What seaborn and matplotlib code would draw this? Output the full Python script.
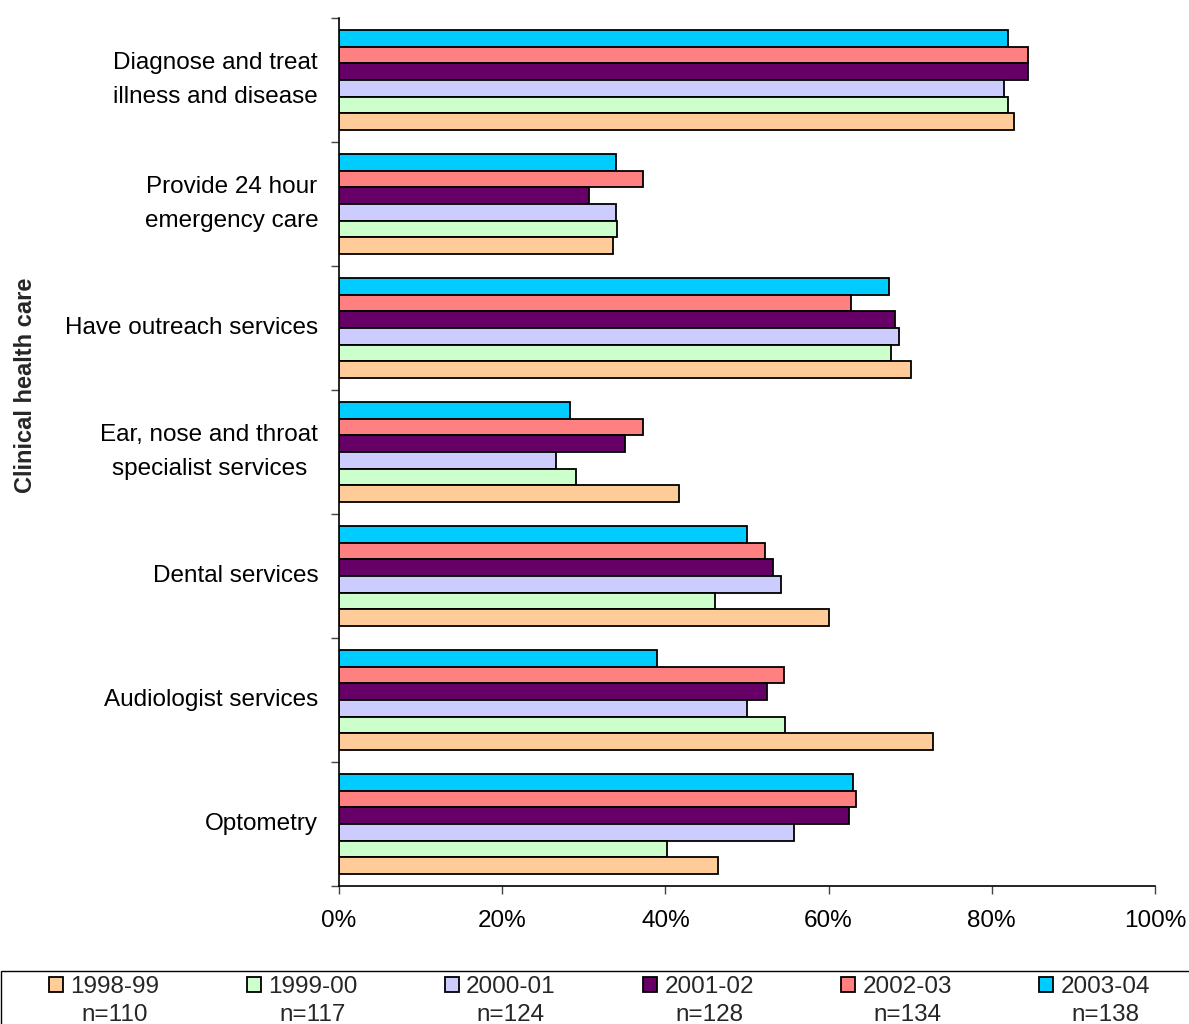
import matplotlib
matplotlib.use("Agg")
import matplotlib.pyplot as plt
import seaborn as sns
import pandas as pd
from matplotlib.patches import Patch, Rectangle
from matplotlib.ticker import FixedLocator, PercentFormatter

# Service categories (top to bottom)
categories = [
    "Diagnose and treat\nillness and disease",
    "Provide 24 hour\nemergency care",
    "Have outreach services",
    "Ear, nose and throat\nspecialist services",
    "Dental services",
    "Audiologist services",
    "Optometry",
]
years = ["1998-99", "1999-00", "2000-01", "2001-02", "2002-03", "2003-04"]
sample_sizes = ["n=110", "n=117", "n=124", "n=128", "n=134", "n=138"]

# Percentage of services providing each type of care, by year
v_1998_99 = [82.7, 33.6, 70.1, 41.7, 60.0, 72.8, 46.4]
v_1999_00 = [82.0, 34.1, 67.6, 29.0, 46.1, 54.7, 40.2]
v_2000_01 = [81.5, 33.9, 68.6, 26.6, 54.2, 50.0, 55.7]
v_2001_02 = [84.4, 30.6, 68.1, 35.1, 53.2, 52.5, 62.5]
v_2002_03 = [84.4, 37.3, 62.7, 37.3, 52.2, 54.5, 63.4]
v_2003_04 = [82.0, 33.9, 67.4, 28.3, 50.0, 39.0, 63.0]

colors = ["#FFCC99", "#CCFFCC", "#CCCCFF", "#660066", "#FF8080", "#00CCFF"]

series = [v_1998_99, v_1999_00, v_2000_01, v_2001_02, v_2002_03, v_2003_04]
rows = []
for yr, vals in zip(years, series):
    for cat, v in zip(categories, vals):
        rows.append({"category": cat, "year": yr, "value": v})
df = pd.DataFrame(rows)

sns.set_style("ticks")
plt.rcParams["font.family"] = ["Liberation Sans", "DejaVu Sans"]
FS = 17.5

fig = plt.figure(figsize=(11.89, 10.24), dpi=100)
ax = fig.add_axes([339 / 1189, 1 - 886 / 1024, (1155 - 339) / 1189, (886 - 18) / 1024])

# Newest year drawn at the top of each group
hue_order = years[::-1]
palette = dict(zip(years, colors))
sns.barplot(
    data=df, x="value", y="category", hue="year", hue_order=hue_order,
    order=categories, palette=palette, orient="h", width=0.8,
    edgecolor="black", linewidth=1.3, saturation=1, legend=False, ax=ax,
)

ax.set_xlim(0, 100)
ax.set_ylim(len(categories) - 0.5, -0.5)
ax.xaxis.set_major_locator(FixedLocator([0, 20, 40, 60, 80, 100]))
ax.xaxis.set_major_formatter(PercentFormatter(decimals=0))
ax.tick_params(axis="x", direction="out", length=6, width=1, color="#444444",
               labelsize=FS, pad=11, labelcolor="black")

# Tick marks between groups, labels at group centres
ax.yaxis.set_major_locator(FixedLocator([i - 0.5 for i in range(len(categories) + 1)]))
ax.yaxis.set_minor_locator(FixedLocator(list(range(len(categories)))))
ax.set_yticklabels([], minor=False)
ax.set_yticklabels(categories, minor=True)
ax.tick_params(axis="y", which="major", direction="out", length=6, width=1, color="#444444")
ax.tick_params(axis="y", which="minor", length=0, labelsize=FS, pad=15, labelcolor="black")
for t in ax.get_yticklabels(minor=True):
    t.set_multialignment("center")
    t.set_verticalalignment("center")
    t.set_linespacing(1.65)

ax.set_xlabel("")
ax.set_ylabel("Clinical health care", fontsize=FS - 0.5, fontweight="bold")
ax.yaxis.set_label_coords((37 - 339) / 816, (886 - 385) / 868)

for side in ["top", "right"]:
    ax.spines[side].set_visible(False)
for side in ["left", "bottom"]:
    ax.spines[side].set_color("black")
    ax.spines[side].set_linewidth(1.2)

# Legend box spanning the bottom of the figure
fig.patches.append(Rectangle((1 / 1189, -0.2), 1.2, 0.2 + 1 - 971 / 1024,
                             transform=fig.transFigure, fill=False,
                             edgecolor="black", linewidth=1.0))
handles = [Patch(facecolor=c, edgecolor="black", linewidth=1.3) for c in colors]
leg = fig.legend(handles, years, loc="upper left",
                 bbox_to_anchor=(49 / 1189, 1 - 976 / 1024, (1150 - 49) / 1189, 0),
                 mode="expand", ncol=6, frameon=False, borderaxespad=0, borderpad=0,
                 handlelength=0.58, handleheight=0.58, handletextpad=0.3,
                 fontsize=FS)

fig.canvas.draw()
renderer = fig.canvas.get_renderer()
inv = fig.transFigure.inverted()
for txt, n in zip(leg.get_texts(), sample_sizes):
    bb = txt.get_window_extent(renderer)
    cx = (bb.x0 + bb.x1) / 2
    cy = (bb.y0 + bb.y1) / 2 - 28
    fx, fy = inv.transform((cx, cy))
    fig.text(fx, fy, n, ha="center", va="center", fontsize=FS)

fig.savefig("out.png", dpi=100)
